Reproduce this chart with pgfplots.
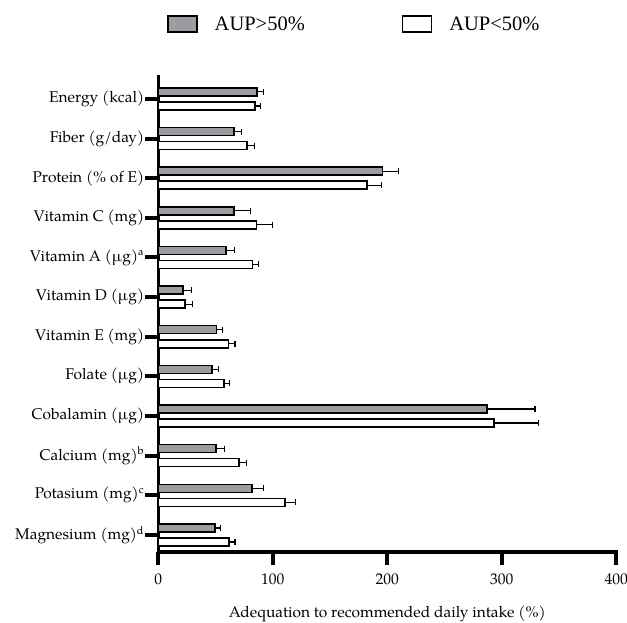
\documentclass[border=0pt]{standalone}
\usepackage{fontspec}
\setmainfont{texgyrepagella-regular.otf}[BoldFont=texgyrepagella-bold.otf,ItalicFont=texgyrepagella-italic.otf]
\newfontfamily\legfont{Liberation Serif}
\usepackage{pgfplots}
\usepackage{pgfplotstable}
\pgfplotsset{compat=1.18}

\definecolor{barGray}{RGB}{155,155,160}

% idx 0 = Magnesium ... 11 = Energy ; val = bar end, err = upper error
\pgfplotstableread{
idx val err
0  49.7 4.9
1  82.0 9.6
2  50.3 7.2
3  286.9 42.1
4  47.0 5.9
5  50.9 5.5
6  21.4 7.9
7  59.3 7.0
8  66.3 14.3
9  195.7 13.9
10 66.3 6.7
11 86.4 5.8
}\highAUP

\pgfplotstableread{
idx val err
0  61.9 5.0
1  110.8 8.8
2  70.6 6.5
3  293.3 38.7
4  57.5 5.0
5  61.4 5.5
6  23.4 6.5
7  82.3 5.5
8  85.8 13.7
9  182.3 12.7
10 77.4 6.6
11 84.4 5.2
}\lowAUP

\pgfplotsset{
    barerr/.style={
        error bars/.cd, x dir=plus, x explicit,
        error mark=|,
        error bar style={line width=1.2pt, black},
        error mark options={line width=1.2pt, black, mark size=3pt}},
}

\begin{document}
\begin{tikzpicture}
\useasboundingbox (0,0) rectangle (627pt,-623pt);
\begin{axis}[
    at={(158.3pt,-552pt)}, anchor=south west,
    width=458pt, height=475.3pt, scale only axis,
    xmin=0, xmax=400, ymin=-0.43, ymax=11.56,
    enlargelimits=false,
    axis x line=bottom, axis y line=left,
    axis line style={-, line width=3.5pt, line cap=rect},
    tick align=outside,
    major tick length=13pt,
    tick style={line width=4pt, black},
    xtick={0,100,200,300,400},
    ytick={0,...,11},
    yticklabels={{Magnesium (mg)\textsuperscript{d}},{Potasium (mg)\textsuperscript{c}},{Calcium (mg)\textsuperscript{b}},{Cobalamin (µg)},{Folate (µg)},{Vitamin E (mg)},{Vitamin D (µg)},{Vitamin A (µg)\textsuperscript{a}},{Vitamin C (mg)},{Protein (\% of E)},{Fiber (g/day)},{Energy (kcal)}},
    /pgf/number format/assume math mode=true,
    tick label style={font=\fontsize{15.5}{18}\selectfont},
    yticklabel style={inner sep=1pt},
    xticklabel style={yshift=-5pt},
    xlabel={Adequation to recommended daily intake (\%)},
    xlabel style={font=\fontsize{15.5}{18}\selectfont, at={(axis description cs:0.5,0)}, anchor=center, yshift=-62pt},
    legend columns=2,
    legend style={draw=none, fill=none, at={(axis description cs:0.019,1.111)}, anchor=west,
        inner sep=0pt, font=\legfont\fontsize{20.5}{24}\selectfont,
        /tikz/every odd column/.append style={column sep=15pt},
        /tikz/every even column/.append style={column sep=95pt}},
    legend image code/.code={\draw[#1, line width=1.5pt] (0pt,-8pt) rectangle (29pt,8pt);},
    clip=false,
]
\addplot[xbar, bar width=8pt, bar shift=0pt, fill=barGray, draw=black, line width=1.5pt, barerr]
    table[x=val, y expr=\thisrow{idx}+0.1766, x error=err]{\highAUP};
\addlegendentry{AUP>50\%}
\addplot[xbar, bar width=8pt, bar shift=0pt, fill=white, draw=black, line width=1.5pt, barerr]
    table[x=val, y expr=\thisrow{idx}-0.1766, x error=err]{\lowAUP};
\addlegendentry{AUP<50\%}
\end{axis}
\end{tikzpicture}
\end{document}
